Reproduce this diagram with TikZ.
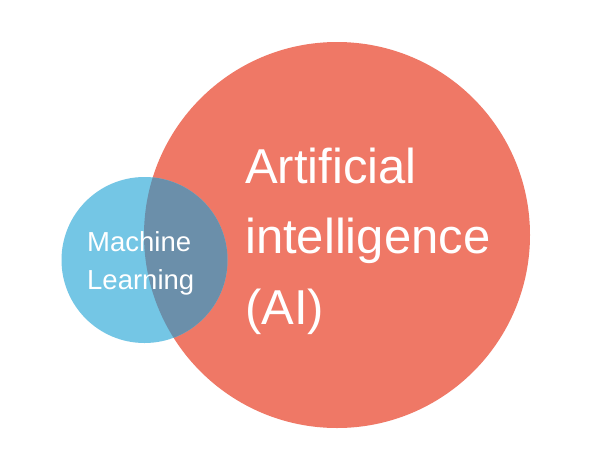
\documentclass[tikz,border=0pt]{standalone}
\usepackage{fontspec}
\setmainfont{Liberation Sans}
\definecolor{aired}{HTML}{EF7866}
\definecolor{mlblue}{HTML}{74C6E5}
\definecolor{overlapc}{HTML}{6B8FAA}
\begin{document}
\begin{tikzpicture}[x=1pt,y=-1pt,
  bigtxt/.style={anchor=base west,inner sep=0,text=white,font=\fontsize{49}{70}\selectfont},
  smalltxt/.style={anchor=base west,inner sep=0,text=white,font=\fontsize{27.5}{38}\selectfont}]
\useasboundingbox (0,0) rectangle (615,461);
\fill[white] (0,0) rectangle (615,461);
\coordinate (aic) at (337,235);
\coordinate (mlc) at (144.5,260);
\fill[aired] (aic) circle[radius=193];
\fill[mlblue] (mlc) circle[radius=83];
\begin{scope}
  \clip (aic) circle[radius=193];
  \fill[overlapc] (mlc) circle[radius=83];
\end{scope}
\node[bigtxt] (ai1) at (245,183) {Artificial};
\node[bigtxt] (ai2) at (245,253) {intelligence};
\node[bigtxt] (ai3) at (245,324) {(AI)};
\node[smalltxt] (ml1) at (87,251) {Machine};
\node[smalltxt] (ml2) at (87,289) {Learning};
\end{tikzpicture}
\end{document}
